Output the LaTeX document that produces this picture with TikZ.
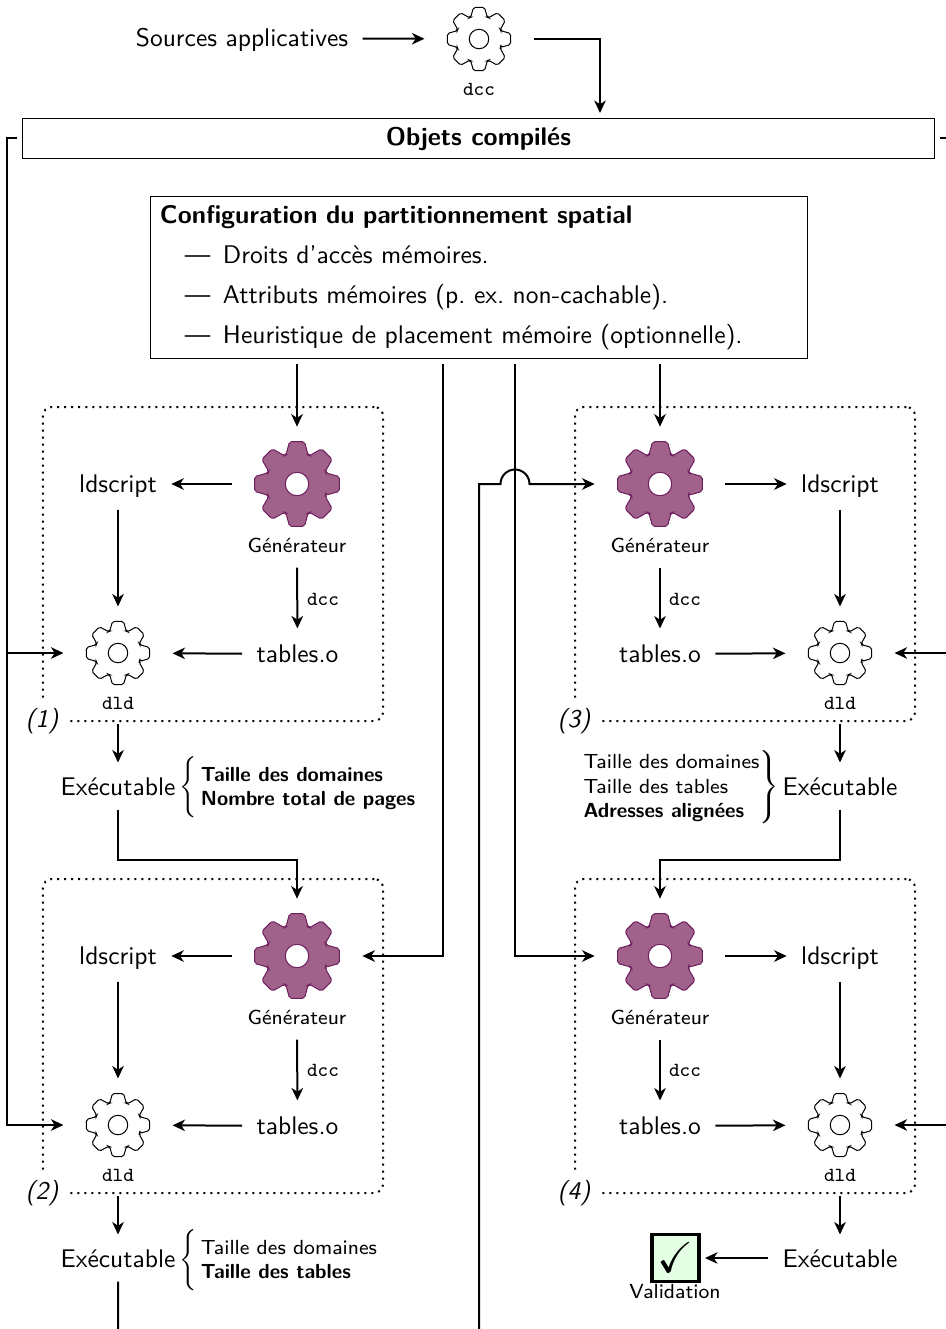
\documentclass[tikz,border=0pt]{standalone}
\usepackage{amssymb}
\usetikzlibrary{arrows.meta}
\renewcommand{\familydefault}{\sfdefault}
\frenchspacing
\definecolor{gearfill}{HTML}{A0628A}
\definecolor{gearline}{HTML}{6E1F5F}
\definecolor{validfill}{HTML}{E5FFE5}
\newcommand{\basefont}{\fontsize{10.2}{12}\selectfont}
\newcommand{\infofont}{\fontsize{8.16}{9.7}\selectfont}
% gears are drawn in pt: outer radius, root radius, hole radius
\newcommand{\gearpath}[3]{
    (-21:#2) \foreach \a in {0,45,...,315}{
        -- (\a-21:#2) -- (\a-10:#1) -- (\a+10:#1) -- (\a+21:#2)
    } -- cycle (0:#3) arc[start angle=0, end angle=360, radius=#3]
}
\newcommand{\biggear}{\tikz{\path[draw=gearline, fill=gearfill, even odd rule, thin, rounded corners=0.8pt] \gearpath{17.2pt}{12.4pt}{4.7pt};}}
\newcommand{\smallgear}{\tikz{\path[draw=black, fill=white, thin, rounded corners=0.7pt] \gearpath{12.8pt}{9.3pt}{3.9pt};}}
\begin{document}
\begin{tikzpicture}[
        x=0.4pt, y=-0.4pt,
        every node/.style={font=\basefont},
        arrow/.style={-{Stealth[length=5pt, width=4.6pt, inset=1.5pt]}, thick},
        textnode/.style={inner xsep=5.6pt, inner ysep=0pt, minimum height=20pt, text height=9pt, text depth=2pt},
        execnode/.style={textnode, minimum height=18.4pt, text height=9.8pt},
        gearnode/.style={inner xsep=8.8pt, inner ysep=5.6pt},
        genlabel/.style={font=\infofont, inner sep=0pt, minimum height=16.5pt, text height=6.5pt, text depth=2pt},
        ttlabel/.style={font=\footnotesize\ttfamily, inner sep=0pt, minimum height=17.6pt, text height=6.4pt, text depth=0pt},
        domainbox/.style={draw, thick, dotted, rounded corners=3.5pt, minimum width=136pt, minimum height=125.6pt},
        passlabel/.style={fill=white, font=\basefont\itshape, inner sep=0pt, minimum width=20pt, minimum height=15pt, text height=9pt, text depth=2pt},
        infonode/.style={font=\infofont, inner sep=0pt},
        plainbox/.style={draw, thin, inner sep=0pt, outer sep=2.2pt}
    ]
        \useasboundingbox (0,0) rectangle (946,1329);

        % Dotted domains
        \node[domainbox] (box1) at (213,564) {};
        \node[domainbox] (box2) at (213,1036) {};
        \node[domainbox] (box3) at (745,564) {};
        \node[domainbox] (box4) at (745,1036) {};
        \node[passlabel] (pass1) at (42,719) {(1)};
        \node[passlabel] (pass2) at (42,1191) {(2)};
        \node[passlabel] (pass3) at (574,719) {(3)};
        \node[passlabel] (pass4) at (574,1191) {(4)};

        % Sources
        \node[textnode] (src) at (242,38) {Sources applicatives};
        \node[gearnode] (dcc0) at (479,39) {\smallgear};
        \node[ttlabel] (dcc0lbl) at (479,87) {dcc};
        \node[plainbox, minimum width=364.6pt, minimum height=16pt, font=\basefont\bfseries, text height=8pt, text depth=2.2pt] (obj) at (478.5,138) {Objets compilés};
        \coordinate (objin) at (600,113);
        \coordinate (busl) at (7,138);
        \coordinate (busr) at (953,138);

        \draw[arrow] (src) -- (dcc0);
        \draw[arrow] (dcc0) -| (objin);

        % Configuration
        \node[plainbox, outer sep=2.4pt, inner xsep=3.6pt, text width=255.2pt, minimum height=64.8pt, align=left] (config) at (479,277) {
            \rule{0pt}{8pt}\textbf{Configuration du partitionnement spatial}\\[4pt]
            \hspace*{10pt}---\hspace{5pt}Droits d'accès mémoires.\\[4pt]
            \hspace*{10pt}---\hspace{5pt}Attributs mémoires (p. ex. non-cachable).\\[4pt]
            \hspace*{10pt}---\hspace{5pt}Heuristique de placement mémoire (optionnelle).};
        \coordinate (cfga) at (443,364);
        \coordinate (cfgb) at (515,364);

        % Pass 1
        \node[gearnode] (gen1) at (297,484) {\biggear};
        \node[genlabel] (gen1lbl) at (297,546.4) {Générateur};
        \node[textnode] (ld1) at (118,484) {ldscript};
        \node[textnode] (tab1) at (297.5,654) {tables.o};
        \node[gearnode] (dld1) at (118,653) {\smallgear};
        \node[ttlabel] (dld1lbl) at (118,701) {dld};
        \node[ttlabel] (dcc1) at (323,597) {dcc};
        \node[execnode] (exec1) at (118,786) {Exécutable};
        \node[infonode, anchor=west] (info1) at (179,786) {$\left\{\rule[-9.9pt]{0pt}{24.8pt}\kern1.6pt\raisebox{-0.8pt}{\begin{tabular}{@{}l@{}}\textbf{Taille des domaines}\\ \textbf{Nombre total de pages}\end{tabular}}\right.$};
        \coordinate (bend1) at (118,860);

        \draw[arrow] (config.south -| gen1.north) -- (gen1.north);
        \draw[arrow] (gen1) -- (ld1);
        \draw[arrow] (ld1) -- (dld1);
        \draw[arrow] (gen1lbl) -- (tab1);
        \draw[arrow] (tab1) -- (dld1);
        \draw[arrow] (dld1lbl) -- (exec1);

        % Pass 2
        \node[gearnode] (gen2) at (297,956) {\biggear};
        \node[genlabel] (gen2lbl) at (297,1018.4) {Générateur};
        \node[textnode] (ld2) at (118,956) {ldscript};
        \node[textnode] (tab2) at (297.5,1126) {tables.o};
        \node[gearnode] (dld2) at (118,1125) {\smallgear};
        \node[ttlabel] (dld2lbl) at (118,1173) {dld};
        \node[ttlabel] (dcc2) at (323,1068) {dcc};
        \node[execnode] (exec2) at (118,1258) {Exécutable};
        \node[infonode, anchor=west] (info2) at (179,1259) {$\left\{\rule[-9.9pt]{0pt}{24.8pt}\kern1.6pt\raisebox{-0.8pt}{\begin{tabular}{@{}l@{}}Taille des domaines\\ \textbf{Taille des tables}\end{tabular}}\right.$};

        \draw[arrow] (exec1) -- (bend1) -| (gen2.north);
        \draw[arrow] (cfga) |- (gen2.east);
        \draw[arrow] (gen2) -- (ld2);
        \draw[arrow] (ld2) -- (dld2);
        \draw[arrow] (gen2lbl) -- (tab2);
        \draw[arrow] (tab2) -- (dld2);
        \draw[arrow] (dld2lbl) -- (exec2);

        % Pass 3
        \node[gearnode] (gen3) at (660,484) {\biggear};
        \node[genlabel] (gen3lbl) at (660,546.4) {Générateur};
        \node[textnode] (ld3) at (840,484) {ldscript};
        \node[textnode] (tab3) at (660,654) {tables.o};
        \node[gearnode] (dld3) at (840,653) {\smallgear};
        \node[ttlabel] (dld3lbl) at (840,701) {dld};
        \node[ttlabel] (dcc3) at (685,597) {dcc};
        \node[execnode] (exec3) at (840,786) {Exécutable};
        \node[infonode, anchor=west] (info3) at (580,786) {$\left.\rule[-13.3pt]{0pt}{31.6pt}\raisebox{-0.4pt}{\begin{tabular}{@{}l@{}}Taille des domaines\\ Taille des tables\\ \textbf{Adresses alignées}\end{tabular}}\right\}$};
        \coordinate (bend3) at (840,860);
        \coordinate (wrapa) at (118,1340);
        \coordinate (wrapb) at (479,1340);
        \coordinate (wrapc) at (479,484);
        \coordinate (hopa) at (500.5,484);

        \draw[arrow] (config.south -| gen3.north) -- (gen3.north);
        \draw[arrow] (exec2) -- (wrapa) -- (wrapb) -- (wrapc) -- (hopa) arc[start angle=180, end angle=0, radius=5.8pt] -- (gen3.west);
        \draw[arrow] (gen3) -- (ld3);
        \draw[arrow] (ld3) -- (dld3);
        \draw[arrow] (gen3lbl) -- (tab3);
        \draw[arrow] (tab3) -- (dld3);
        \draw[arrow] (dld3lbl) -- (exec3);

        % Pass 4
        \node[gearnode] (gen4) at (660,956) {\biggear};
        \node[genlabel] (gen4lbl) at (660,1018.4) {Générateur};
        \node[textnode] (ld4) at (840,956) {ldscript};
        \node[textnode] (tab4) at (660,1126) {tables.o};
        \node[gearnode] (dld4) at (840,1125) {\smallgear};
        \node[ttlabel] (dld4lbl) at (840,1173) {dld};
        \node[ttlabel] (dcc4) at (685,1068) {dcc};
        \node[execnode] (exec4) at (840,1258) {Exécutable};
        \node[draw, line width=1.3pt, fill=validfill, inner sep=0pt, outer sep=2.4pt, minimum size=18.8pt, font=\LARGE] (valid) at (675.5,1258) {$\checkmark$};
        \node[genlabel, text depth=0pt] (validlbl) at (675,1290) {Validation};

        \draw[arrow] (exec3) -- (bend3) -| (gen4.north);
        \draw[arrow] (cfgb) |- (gen4.west);
        \draw[arrow] (gen4) -- (ld4);
        \draw[arrow] (ld4) -- (dld4);
        \draw[arrow] (gen4lbl) -- (tab4);
        \draw[arrow] (tab4) -- (dld4);
        \draw[arrow] (dld4lbl) -- (exec4);
        \draw[arrow] (exec4) -- (valid);

        % Compiled objects to the linkers
        \draw[arrow] (obj.west) -- (busl) |- (dld2.west);
        \draw[arrow] (busl |- dld1.west) -- (dld1.west);
        \draw[arrow] (obj.east) -- (busr) |- (dld4.east);
        \draw[arrow] (busr |- dld3.east) -- (dld3.east);
    \end{tikzpicture}
\end{document}
